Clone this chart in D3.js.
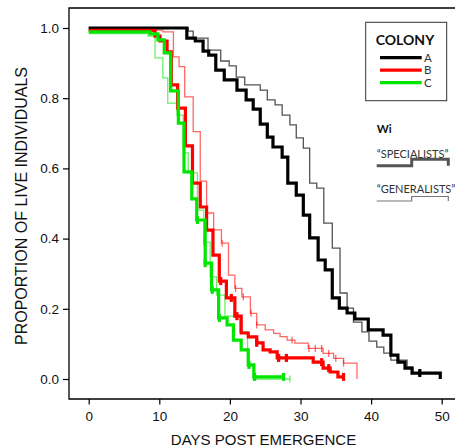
<!DOCTYPE html>
<html>
<head>
<meta charset="utf-8">
<script src="https://cdn.jsdelivr.net/npm/d3@7"></script>
<style>
  body { margin: 0; background: #fff; }
  svg { display: block; }
</style>
</head>
<body>
<script>
// Data
//////////////////////////////////////////////////////////////////////
var colonies = ["A", "B", "C"];
var colonyColors = ["#000000", "#ff0000", "#00e600"];
var xTicks = [0, 10, 20, 30, 40, 50];
var yTicks = [0, 0.2, 0.4, 0.6, 0.8, 1.0];

// [day post emergence, proportion alive from that day on]
var aSpec = [[0,1],[13.9,.971],[15.1,.963],[16.2,.934],[17.0,.923],[18.0,.880],[19.2,.852],[21.0,.823],[22.3,.795],[23.3,.769],[24.3,.726],[25.3,.689],[26.1,.661],[27.4,.632],[28.2,.558],[29.4,.524],[30.4,.467],[31.3,.402],[32.5,.339],[33.5,.311],[34.5,.231],[35.5,.202],[36.6,.188],[37.7,.171],[39.6,.140],[41.7,.125],[42.8,.068],[43.8,.048],[44.8,.031],[45.8,.017],[49.8,0]];
var aSpecCens = [46.9];
var aGen = [[0,1],[14.1,.991],[14.8,.971],[16.9,.937],[18.7,.906],[19.9,.892],[20.9,.860],[22.1,.838],[24.3,.823],[25.3,.795],[26.4,.781],[27.4,.752],[28.5,.724],[29.4,.687],[30.4,.658],[31.3,.558],[32.3,.544],[33.3,.444],[34.5,.373],[35.6,.245],[36.6,.202],[37.5,.162],[38.7,.134],[39.7,.108],[40.8,.091],[41.8,.074],[42.8,.054],[45.1,.034],[45.9,.017],[49.8,.017]];
var aGenCens = [46.8];

var bSpec = [[0,.993],[9.4,.977],[10.1,.963],[11.1,.932],[11.7,.838],[12.6,.772],[13.7,.664],[14.7,.558],[15.8,.490],[16.7,.424],[17.6,.353],[18.5,.279],[19.5,.231],[20.7,.179],[21.6,.131],[22.6,.120],[23.8,.103],[24.7,.083],[25.7,.077],[26.7,.060],[31.8,.048],[33.2,.031],[34.2,.020],[35.3,.006],[36.1,.006]];
var bSpecCens = [18.7, 20.2, 21.0, 23.8, 26.9, 28.0, 33.0, 34.0, 36.1];
var bGen = [[0,.994],[10.5,.989],[12.0,.918],[12.8,.890],[13.6,.804],[14.8,.705],[15.8,.564],[16.7,.473],[17.7,.425],[18.8,.387],[19.8,.296],[20.7,.258],[21.7,.234],[22.9,.187],[23.8,.154],[25.0,.140],[26.2,.130],[27.1,.121],[28.1,.111],[29.2,.102],[31.1,.087],[33.2,.073],[34.7,.059],[36.1,.045],[38.0,0]];
var bGenCens = [18.9, 20.8, 21.9, 23.0, 23.8, 28.8, 31.2, 32.1, 33.0, 34.0, 35.0, 36.1];

var cSpec = [[0,.989],[8.7,.983],[9.8,.966],[10.7,.929],[11.6,.821],[12.7,.729],[13.5,.590],[14.6,.513],[15.3,.453],[16.5,.330],[17.4,.254],[18.4,.174],[19.6,.154],[20.5,.111],[21.6,.083],[22.6,.040],[23.4,.006],[27.6,.006]];
var cSpecCens = [15.4, 16.5, 17.5, 18.5, 22.7, 23.5, 27.6];
var cGen = [[0,.984],[8.4,.977],[9.4,.915],[10.5,.858],[11.2,.786],[12.5,.752],[13.4,.644],[14.1,.587],[15.4,.481],[16.3,.390],[17.2,.291],[18.1,.239],[19.3,.179],[21.4,.134],[22.5,.037],[23.3,0],[28.5,0]];
var cGenCens = [16.3, 17.4, 28.5];

// Layout
//////////////////////////////////////////////////////////////////////
var width = 455, height = 448;
var frame = { left: 69, top: 8, bottom: 399, right: 470 };
var font = "'Liberation Sans', Arial, sans-serif";
var legendFont = "Lato, 'Open Sans', sans-serif";

var x = d3.scaleLinear().domain([0, 50]).range([88.7, 441.7]);
var y = d3.scaleLinear().domain([0, 1]).range([379, 28]);

var curves = [
  { pts: aGen,  cens: aGenCens,  color: colonyColors[0], thick: false, op: 0.68 },
  { pts: bGen,  cens: bGenCens,  color: colonyColors[1], thick: false, op: 0.6 },
  { pts: cGen,  cens: cGenCens,  color: colonyColors[2], thick: false, op: 0.6 },
  { pts: aSpec, cens: aSpecCens, color: colonyColors[0], thick: true,  op: 1 },
  { pts: bSpec, cens: bSpecCens, color: colonyColors[1], thick: true,  op: 1 },
  { pts: cSpec, cens: cSpecCens, color: colonyColors[2], thick: true,  op: 1 }
];

var svg = d3.select("body").append("svg")
  .attr("width", width)
  .attr("height", height);

// Frame
svg.append("path")
  .attr("d", `M${frame.right},${frame.top}H${frame.left}V${frame.bottom}H${frame.right}`)
  .attr("fill", "none")
  .attr("stroke", "#000")
  .attr("stroke-width", 1.3);

// Axes
//////////////////////////////////////////////////////////////////////
var yAxis = svg.append("g")
  .attr("transform", `translate(${frame.left},0)`)
  .call(d3.axisLeft(y).tickValues(yTicks).tickFormat(d3.format(".1f")).tickSize(6).tickPadding(4));
var xAxis = svg.append("g")
  .attr("transform", `translate(0,${frame.bottom})`)
  .call(d3.axisBottom(x).tickValues(xTicks).tickSize(5.5).tickPadding(7));

[yAxis, xAxis].forEach(function (g) {
  g.select(".domain").remove();
  g.selectAll(".tick line").attr("stroke", "#000").attr("stroke-width", 1.2);
  g.selectAll(".tick text").attr("fill", "#111").attr("font-family", font).attr("font-size", 13.5);
});

svg.append("text")
  .attr("x", 263.5).attr("y", 445)
  .attr("text-anchor", "middle")
  .attr("font-family", font).attr("font-size", 15)
  .attr("fill", "#111")
  .text("DAYS POST EMERGENCE");

svg.append("text")
  .attr("transform", "translate(26.5,206) rotate(-90)")
  .attr("text-anchor", "middle")
  .attr("font-family", font).attr("font-size", 16)
  .attr("fill", "#111")
  .text("PROPORTION OF LIVE INDIVIDUALS");

// Survival curves
//////////////////////////////////////////////////////////////////////
var line = d3.line()
  .x(d => x(d[0]))
  .y(d => y(d[1]))
  .curve(d3.curveStepAfter);

function survAt(pts, t) {
  var s = pts[0][1];
  for (const p of pts) if (p[0] <= t + 1e-9) s = p[1];
  return s;
}

var curveG = svg.append("g").attr("fill", "none");

curves.forEach(function (c) {
  var sw = c.thick ? 3.2 : 1.3;
  var g = curveG.append("g")
    .attr("stroke", c.color)
    .attr("stroke-opacity", c.op)
    .attr("stroke-width", sw);

  g.append("path").attr("d", line(c.pts));

  var half = c.thick ? 4 : 3.5;
  g.selectAll("line")
    .data(c.cens)
    .join("line")
    .attr("x1", d => x(d)).attr("x2", d => x(d))
    .attr("y1", d => y(survAt(c.pts, d)) - half)
    .attr("y2", d => y(survAt(c.pts, d)) + half);
});

// Legend
//////////////////////////////////////////////////////////////////////
var legend = svg.append("g");

legend.append("rect")
  .attr("x", 365.7).attr("y", 22.3)
  .attr("width", 81).attr("height", 78.4)
  .attr("fill", "#fff")
  .attr("stroke", "#333").attr("stroke-width", 1);

legend.append("text")
  .attr("x", 405).attr("y", 45)
  .attr("text-anchor", "middle")
  .attr("font-family", legendFont).attr("font-weight", "bold").attr("font-size", 14)
  .attr("fill", "#111")
  .text("COLONY");

var legendY = d3.scalePoint().domain(colonies).range([57.7, 82.7]);

legend.selectAll(".key")
  .data(colonies)
  .join("g")
  .attr("class", "key")
  .each(function (d, i) {
    var g = d3.select(this);
    g.append("line")
      .attr("x1", 380).attr("x2", 421.7)
      .attr("y1", legendY(d)).attr("y2", legendY(d))
      .attr("stroke", colonyColors[i]).attr("stroke-width", 3.2);
    g.append("text")
      .attr("x", 424).attr("y", legendY(d) + 4)
      .attr("font-family", legendFont).attr("font-size", 11.5)
      .attr("fill", "#333")
      .text(d);
  });

legend.append("text")
  .attr("x", 376.7).attr("y", 133)
  .attr("font-family", legendFont).attr("font-weight", "bold").attr("font-size", 11.5)
  .attr("fill", "#111")
  .text("Wi");

var wiKeys = [
  { label: "\u201CSPECIALISTS\u201D", textY: 157.5, lineY: 165.7, stepY: 159.3, color: "#555", sw: 3 },
  { label: "\u201CGENERALISTS\u201D", textY: 192.5, lineY: 201, stepY: 196.5, color: "#777", sw: 1.2 }
];

wiKeys.forEach(function (k) {
  legend.append("text")
    .attr("x", 376.7).attr("y", k.textY)
    .attr("font-family", legendFont).attr("font-size", 11)
    .attr("fill", "#333")
    .text(k.label);
  legend.append("path")
    .attr("d", `M376.7,${k.lineY}H411.7V${k.stepY}H448.3V${k.lineY}`)
    .attr("fill", "none")
    .attr("stroke", k.color).attr("stroke-width", k.sw);
});
</script>
</body>
</html>
